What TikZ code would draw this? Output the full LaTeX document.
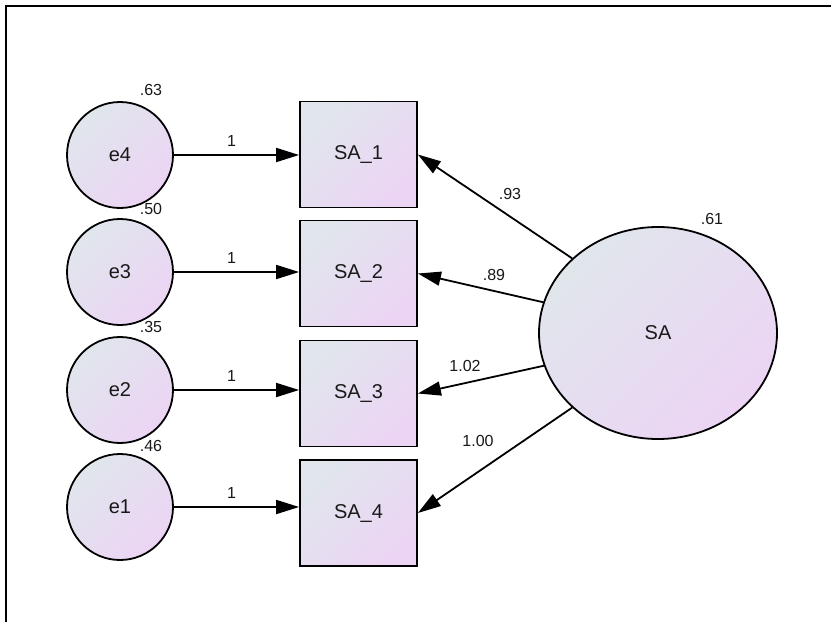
\documentclass[tikz,border=0pt]{standalone}
\usepackage{fontspec}
\setmainfont{Liberation Sans}
\usetikzlibrary{arrows.meta,shapes.geometric}
\definecolor{shadeA}{RGB}{224,230,236}
\definecolor{shadeB}{RGB}{236,212,244}
\definecolor{txt}{RGB}{25,25,25}
\tikzset{
  fillshade/.style={top color=shadeA, bottom color=shadeB, shading angle=45},
  errnode/.style={circle, draw=black, line width=1.8pt, fillshade, minimum size=106pt, inner sep=0pt, text=txt, font=\fontsize{20}{24}\selectfont},
  obsnode/.style={rectangle, draw=black, line width=1.8pt, fillshade, minimum width=117pt, minimum height=106pt, inner sep=0pt, text=txt, font=\fontsize{20}{24}\selectfont},
  latnode/.style={ellipse, draw=black, line width=1.8pt, fillshade, minimum width=238pt, minimum height=212pt, inner sep=0pt, text=txt, font=\fontsize{20}{24}\selectfont},
  lbl/.style={inner sep=0pt, text=txt, font=\fontsize{16}{19}\selectfont},
  path/.style={line width=1.8pt, -{Triangle[length=23pt,width=14pt]}},
  frame/.style={line width=1.8pt}
}
\begin{document}
\begin{tikzpicture}[x=1pt,y=-1pt]
\useasboundingbox (0,0) rectangle (831,622);
\fill[white] (0,0) rectangle (831,622);
\coordinate (fbl) at (6,622);
\coordinate (ftl) at (6,6);
\coordinate (ftr) at (831,6);
\draw[frame] (fbl) -- (ftl) -- (ftr);

\node[errnode] (e4) at (120,155) {e4};
\node[errnode] (e3) at (120,272) {e3};
\node[errnode] (e2) at (120,390) {e2};
\node[errnode] (e1) at (120,507) {e1};

\node[obsnode] (sa1) at (358.5,154.5) {SA\_1};
\node[obsnode] (sa2) at (358.5,273.5) {SA\_2};
\node[obsnode] (sa3) at (358.5,393.5) {SA\_3};
\node[obsnode] (sa4) at (358.5,513) {SA\_4};

\node[latnode] (sa) at (658,333) {SA};

\draw[path] (e4.east) -- (sa1.west |- e4.east) node[lbl, pos=0.46, above=8pt] {1};
\draw[path] (e3.east) -- (sa2.west |- e3.east) node[lbl, pos=0.46, above=8pt] {1};
\draw[path] (e2.east) -- (sa3.west |- e2.east) node[lbl, pos=0.46, above=8pt] {1};
\draw[path] (e1.east) -- (sa4.west |- e1.east) node[lbl, pos=0.46, above=8pt] {1};

\draw[path] (sa.139) -- (sa1.east);
\draw[path] (sa.165) -- (sa2.east);
\draw[path] (sa.196) -- (sa3.east);
\draw[path] (sa.221) -- (sa4.east);

\node[lbl] (v4) at (151,90) {.63};
\node[lbl] (v3) at (151,209) {.50};
\node[lbl] (v2) at (151,327) {.35};
\node[lbl] (v1) at (151,446) {.46};
\node[lbl] (vsa) at (712,219) {.61};

\node[lbl] (l1) at (510,194) {.93};
\node[lbl] (l2) at (494,275) {.89};
\node[lbl] (l3) at (465,366) {1.02};
\node[lbl] (l4) at (478,441) {1.00};
\end{tikzpicture}
\end{document}
